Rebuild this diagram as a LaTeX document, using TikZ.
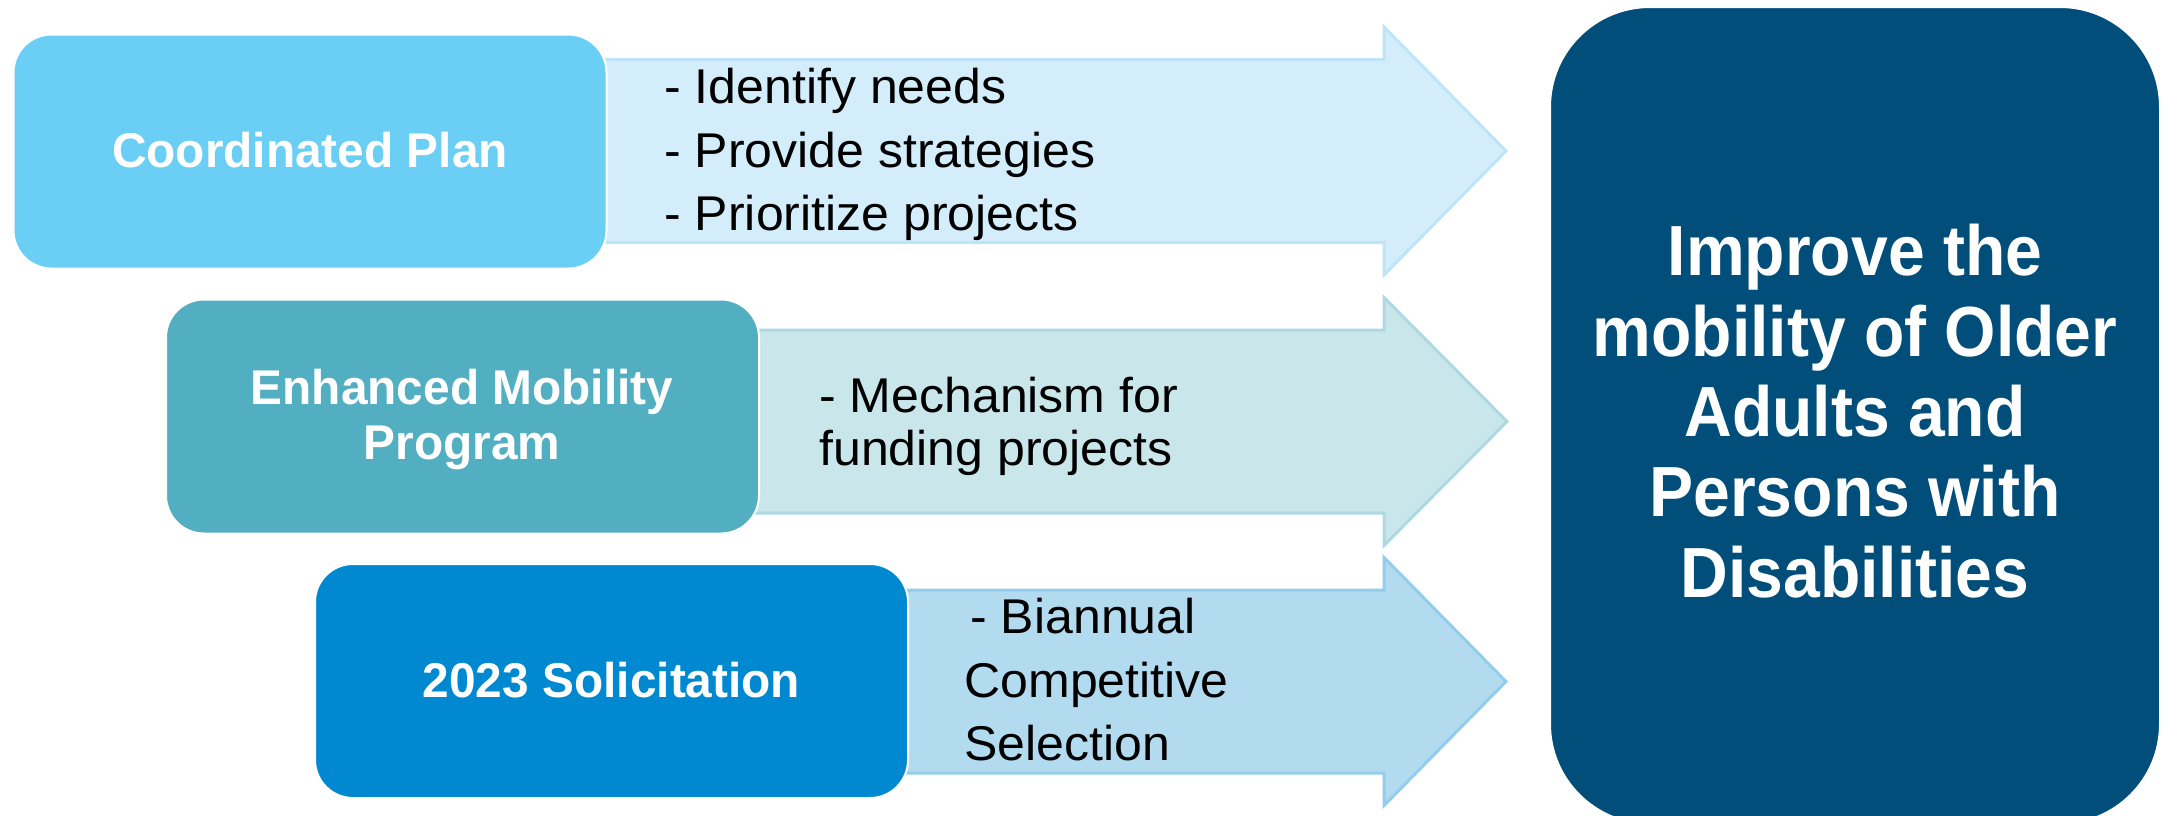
\documentclass[tikz,border=0pt]{standalone}
\usepackage{fontspec}
\setmainfont{Liberation Sans}
\newfontfamily\boxfont[FakeStretch=0.98]{Liberation Sans}
\newfontfamily\goalfont[FakeStretch=0.93]{Liberation Sans}
\newfontfamily\notefont[FakeStretch=1.025]{Liberation Sans}
\definecolor{boxA}{HTML}{6BCEF5}
\definecolor{boxB}{HTML}{52AEC1}
\definecolor{boxC}{HTML}{0089D0}
\definecolor{goalC}{HTML}{024E7A}
\definecolor{arrA}{HTML}{D3EEFA}
\definecolor{arrAl}{HTML}{BEE5F7}
\definecolor{arrB}{HTML}{C9E6EB}
\definecolor{arrBl}{HTML}{AFD9E2}
\definecolor{arrC}{HTML}{B3DBF0}
\definecolor{arrCl}{HTML}{94CCEB}
\tikzset{
  stagebox/.style={draw=white, line width=1pt, rounded corners=19pt, inner sep=0pt,
    minimum width=296.5pt, minimum height=117pt},
  goalbox/.style={draw=white, line width=1pt, fill=goalC, rounded corners=50pt, inner sep=0pt,
    minimum width=305pt, minimum height=408.5pt},
  bigarrow/.style={line width=1.5pt, line join=miter},
  lbl/.style={text=white, font=\boxfont\bfseries\fontsize{24.4}{28}\selectfont, anchor=base, inner sep=0pt},
  note/.style={text=black, font=\notefont\fontsize{24.4}{28}\selectfont, anchor=base west, inner sep=0pt},
  goaltxt/.style={text=white, font=\goalfont\bfseries\fontsize{35.5}{40}\selectfont, anchor=base, inner sep=0pt}
}
\begin{document}
\begin{tikzpicture}[x=0.5pt,y=-0.5pt]
\useasboundingbox (0,0) rectangle (2169,815);
\clip (0,0) rectangle (2169,815);

% arrows
\draw[bigarrow, fill=arrA, draw=arrAl] (596,59.5) -- (1384,59.5) -- (1384,27) -- (1506,151) -- (1384,275) -- (1384,242.5) -- (596,242.5) -- cycle;
\draw[bigarrow, fill=arrB, draw=arrBl] (748,330) -- (1384,330) -- (1384,297.5) -- (1507,421.5) -- (1384,545.5) -- (1384,513) -- (748,513) -- cycle;
\draw[bigarrow, fill=arrC, draw=arrCl] (898,590) -- (1384,590) -- (1384,557.5) -- (1506,681.5) -- (1384,805.5) -- (1384,773) -- (898,773) -- cycle;

% boxes
\node[stagebox, fill=boxA] (b1) at (310,151.5) {};
\node[stagebox, fill=boxB] (b2) at (462.5,416.5) {};
\node[stagebox, fill=boxC] (b3) at (611.5,681) {};
\node[goalbox] (goal) at (1855,415.5) {};

% box labels
\node[lbl] (l1) at (310,167) {Coordinated Plan};
\node[lbl] (l2a) at (462,404) {Enhanced Mobility};
\node[lbl] (l2b) at (462,459) {Program};
\node[lbl] (l3) at (611.5,697) {2023 Solicitation};

% arrow notes
\node[note] (n1a) at (664,103) {- Identify needs};
\node[note] (n1b) at (664,167) {- Provide strategies};
\node[note] (n1c) at (664,230) {- Prioritize projects};
\node[note] (n2a) at (819,412) {- Mechanism for};
\node[note] (n2b) at (819,465) {funding projects};
\node[note] (n3a) at (970,633) {- Biannual};
\node[note] (n3b) at (964,697) {Competitive};
\node[note] (n3c) at (964,760) {Selection};

% goal text
\node[goaltxt] (g1) at (1855,275) {Improve the};
\node[goaltxt] (g2) at (1855,356) {mobility of Older};
\node[goaltxt] (g3) at (1855,436) {Adults and};
\node[goaltxt] (g4) at (1855,516) {Persons with};
\node[goaltxt] (g5) at (1855,597) {Disabilities};
\end{tikzpicture}
\end{document}
